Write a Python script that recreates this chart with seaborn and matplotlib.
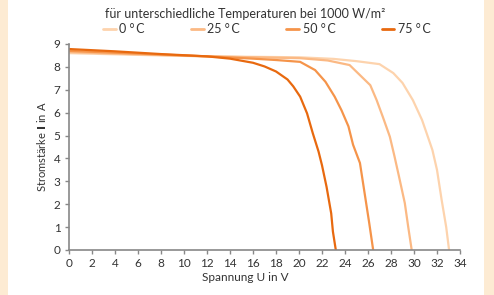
import matplotlib
matplotlib.use("Agg")
import matplotlib.pyplot as plt
import seaborn as sns
import pandas as pd
from matplotlib.patches import Rectangle

# Kennlinien je Temperatur (Spannung in V, Strom in A)
u_0 = [0, 4, 8, 12, 16, 20, 23, 25, 27.0, 28.2, 29.0, 29.9, 30.7, 31.1, 31.6, 32.0, 32.4, 32.8, 33.05]
i_0 = [8.6, 8.55, 8.5, 8.46, 8.44, 8.42, 8.35, 8.25, 8.12, 7.73, 7.3, 6.55, 5.68, 5.1, 4.37, 3.5, 2.2, 1.0, 0]

u_25 = [0, 4, 8, 12, 16, 20.1, 22.5, 24.4, 25.3, 26.2, 26.75, 27.3, 27.9, 28.3, 28.7, 29.2, 29.5, 29.8]
i_25 = [8.65, 8.58, 8.52, 8.46, 8.42, 8.38, 8.28, 8.08, 7.64, 7.2, 6.55, 5.8, 4.95, 4.1, 3.2, 2.05, 1.0, 0]

u_50 = [0, 4, 8, 12, 16, 18, 20.1, 21.4, 22.3, 23.1, 23.7, 24.3, 24.7, 25.3, 25.7, 26.1, 26.45]
i_50 = [8.7, 8.62, 8.54, 8.46, 8.36, 8.3, 8.22, 7.86, 7.35, 6.7, 6.1, 5.4, 4.6, 3.8, 2.5, 1.2, 0]

u_75 = [0, 4, 8, 12, 14, 16, 17, 18, 19, 19.5, 20.1, 20.7, 21.2, 21.7, 22.0, 22.4, 22.8, 22.95, 23.2]
i_75 = [8.78, 8.68, 8.56, 8.46, 8.36, 8.18, 8.02, 7.8, 7.45, 7.15, 6.7, 5.97, 5.1, 4.3, 3.7, 2.75, 1.6, 0.8, 0]

temps = ["0 °\u2009C", "25 °\u2009C", "50 °\u2009C", "75 °\u2009C"]
farben = ["#fdd3ad", "#fbb984", "#f5944a", "#e8690f"]

frames = []
for t, u, i in zip(temps, [u_0, u_25, u_50, u_75], [i_0, i_25, i_50, i_75]):
    frames.append(pd.DataFrame({"U": u, "I": i, "T": t}))
df = pd.concat(frames, ignore_index=True)

sns.set_style("white")
plt.rcParams['font.family'] = ['Lato', 'DejaVu Sans']

fig = plt.figure(figsize=(4.94, 2.95), dpi=100)
fig.patch.set_facecolor("white")
# beige Randstreifen
fig.patches.append(Rectangle((0, 0), 8 / 494, 1, transform=fig.transFigure,
                             facecolor="#fdebd3", edgecolor="none", zorder=0))
fig.patches.append(Rectangle((484 / 494, 0), 10 / 494, 1, transform=fig.transFigure,
                             facecolor="#fdebd3", edgecolor="none", zorder=0))

ax = fig.add_axes([69 / 494, 1 - 250 / 295, 391 / 494, 206 / 295])

sns.lineplot(data=df, x="U", y="I", hue="T", hue_order=temps, palette=farben,
             sort=False, estimator=None, linewidth=1.6, ax=ax, legend=True)

ax.set_xlim(0, 34)
ax.set_ylim(0, 9)
ax.set_xticks(range(0, 35, 2))
ax.set_yticks(range(0, 10))
ax.set_xlabel("Spannung U in V", fontsize=8.5, color="#333333", labelpad=2)
ax.xaxis.label.set_x(0.45)
ax.set_ylabel(r"Stromstärke $\mathbf{I}$ in A", fontsize=8, color="#333333", labelpad=4)

for s in ["top", "right"]:
    ax.spines[s].set_visible(False)
for s in ["left", "bottom"]:
    ax.spines[s].set_color("#888888")
    ax.spines[s].set_linewidth(1.2)
ax.tick_params(axis="both", which="major", direction="out", length=3, width=1,
               color="#888888", labelsize=8.5, labelcolor="#333333", pad=3)
ax.tick_params(axis="x", bottom=True)
ax.tick_params(axis="y", left=True)

leg = ax.legend(loc="lower center", bbox_to_anchor=(0.506, 1.0), ncol=4, frameon=False,
                fontsize=9, handlelength=1.0, handletextpad=0.3,
                columnspacing=3.7, borderaxespad=0.3)
for txt in leg.get_texts():
    txt.set_color("#333333")
for line in leg.get_lines():
    line.set_linewidth(2)

fig.text(0.497, 1 - 14 / 295, "für unterschiedliche Temperaturen bei 1000 W/m²",
         ha="center", va="center", fontsize=9, color="#333333")

fig.savefig("out.png", dpi=100)
